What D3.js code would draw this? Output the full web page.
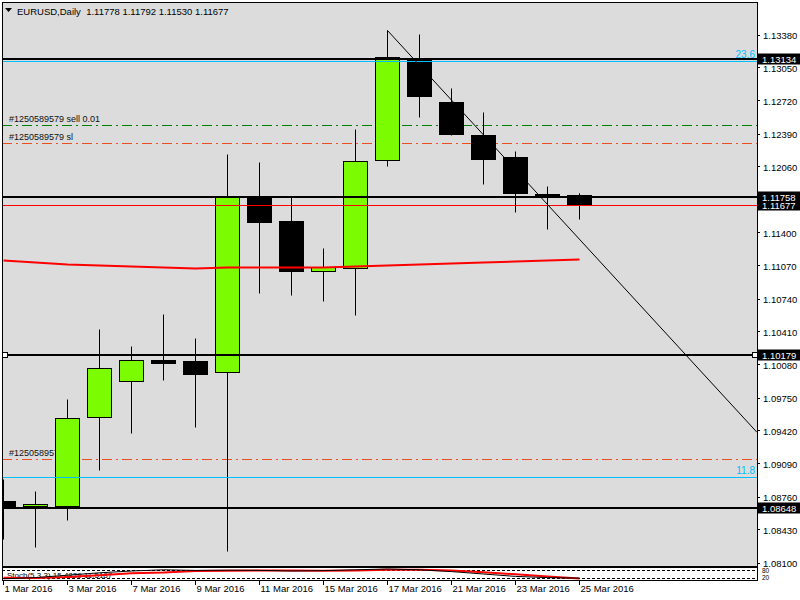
<!DOCTYPE html>
<html>
<head>
<meta charset="utf-8">
<script src="https://cdn.jsdelivr.net/npm/d3@7"></script>
<style>
body { margin:0; background:#fff; }
text { font-family: "Liberation Sans", Arial, sans-serif; }
</style>
</head>
<body>
<script>
// EURUSD daily candles
var w = 800;
var h = 600;

var dates = ["1 Mar 2016","2 Mar 2016","3 Mar 2016","4 Mar 2016","7 Mar 2016","8 Mar 2016","9 Mar 2016",
             "10 Mar 2016","11 Mar 2016","14 Mar 2016","15 Mar 2016","16 Mar 2016","17 Mar 2016","18 Mar 2016",
             "21 Mar 2016","22 Mar 2016","23 Mar 2016","24 Mar 2016","25 Mar 2016"];
var opens  = [1.0872,1.0866,1.0867,1.0955,1.0991,1.1012,1.1011,1.1000,1.1175,1.1151,1.1101,1.1104,1.1212,1.1313,1.1270,1.1238,1.1215,1.1179,1.11778];
var highs  = [1.0893,1.0881,1.0973,1.1043,1.1026,1.1058,1.1034,1.1218,1.1210,1.1175,1.1124,1.1243,1.1342,1.1338,1.1284,1.1260,1.1221,1.1186,1.11792];
var lows   = [1.0833,1.0825,1.0852,1.0902,1.0939,1.0992,1.0945,1.0821,1.1079,1.1077,1.1071,1.1057,1.1206,1.1255,1.1237,1.1188,1.1160,1.1143,1.11530];
var closes = [1.0865,1.0868,1.0955,1.1004,1.1012,1.1009,1.0998,1.1175,1.1150,1.1101,1.1105,1.1211,1.1315,1.1276,1.1238,1.1214,1.1179,1.1176,1.11677];
var maValues = [1.1112,1.1110,1.1108,1.1107,1.1106,1.1105,1.1104,1.1105,1.1105,1.1105,1.1105,1.1106,1.1107,1.1108,1.1109,1.1110,1.1111,1.1112,1.1113];

// stochastic subwindow
var stochMain   = [10,20,40,60,75,85,80,82,80,75,78,85,92,85,70,50,30,20,15.48];
var stochSignal = [19,17,25,40,56,62,75,78,80,80,78,80,85,86,80,65,48,30,11.52];

var priceTicks = ["1.13380","1.13050","1.12720","1.12390","1.12060","1.11400","1.11070","1.10740",
                  "1.10410","1.10080","1.09750","1.09420","1.09090","1.08760","1.08430","1.08100"];
var dateLabels = ["1 Mar 2016","3 Mar 2016","7 Mar 2016","9 Mar 2016","11 Mar 2016","15 Mar 2016",
                  "17 Mar 2016","21 Mar 2016","23 Mar 2016","25 Mar 2016"];

// horizontal lines, order lines, fibo levels
var hLines = [1.13134, 1.11758, 1.10179, 1.08648];
var bidPrice = 1.11677;
var orderPrices = [1.12472, 1.12292, 1.09132];
var orderTexts  = ["#1250589579 sell 0.01", "#1250589579 sl", "#1250589579"];
var orderColors = ["#008000", "#e8501e", "#e8501e"];
var fiboPrices = [1.1311, 1.0896];
var fiboTexts  = ["23.6", "11.8"];
// trend line anchors (date index, price)
var trendIdx = [12, 17];
var trendPrice = [1.1342, 1.1168];

var pLeft = 2, pRight = 757, pTop = 2, pBottom = 566;

var x = d3.scaleLinear().domain([0, dates.length - 1]).range([3.5, 3.5 + 32 * (dates.length - 1)]);
var y = d3.scaleLinear().domain([1.0810, 1.1338]).range([562.5, 34.5]);
var ys = d3.scaleLinear().domain([0, 100]).range([580, 568]);

var svg = d3.select("body").append("svg")
            .attr("width", w)
            .attr("height", h);

svg.append("rect").attr("width", w).attr("height", h).attr("fill", "#ffffff");
svg.append("rect")
  .attr("x", pLeft).attr("y", pTop)
  .attr("width", pRight - pLeft).attr("height", pBottom - pTop)
  .attr("fill", "#dcdcdc");

svg.append("clipPath").attr("id", "plot")
  .append("rect").attr("x", pLeft + 1).attr("y", pTop + 1)
  .attr("width", pRight - pLeft - 1).attr("height", pBottom - pTop - 1);

var plot = svg.append("g").attr("clip-path", "url(#plot)");

// order lines (under candles)
plot.selectAll("line.order")
  .data(orderPrices)
  .enter().append("line")
  .attr("x1", pLeft).attr("x2", pRight)
  .attr("y1", function(d) { return Math.round(y(d)) + 0.5; })
  .attr("y2", function(d) { return Math.round(y(d)) + 0.5; })
  .attr("stroke", function(d, i) { return orderColors[i]; })
  .attr("stroke-dasharray", "10,4,2,4");

plot.selectAll("text.order")
  .data(orderTexts)
  .enter().append("text")
  .text(function(d) { return d; })
  .attr("x", 9)
  .attr("y", function(d, i) { return Math.round(y(orderPrices[i])) - 3; })
  .attr("font-size", 9)
  .attr("fill", "#111");

// candles
var idx = d3.range(dates.length);
var cx = function(i) { return Math.floor(x(i)) + 0.5; };

plot.selectAll("line.wick")
  .data(idx)
  .enter().append("line")
  .attr("x1", cx).attr("x2", cx)
  .attr("y1", function(i) { return y(highs[i]); })
  .attr("y2", function(i) { return y(lows[i]); })
  .attr("stroke", "#000");

plot.selectAll("rect.body")
  .data(idx)
  .enter().append("rect")
  .attr("x", function(i) { return cx(i) - 12; })
  .attr("width", 24)
  .attr("y", function(i) { return Math.round(y(Math.max(opens[i], closes[i]))) + 0.5; })
  .attr("height", function(i) { return Math.max(2, Math.round(Math.abs(y(opens[i]) - y(closes[i])))); })
  .attr("fill", function(i) { return closes[i] >= opens[i] ? "#7cfc00" : "#000"; })
  .attr("stroke", "#000");

// moving average
plot.append("path")
  .datum(idx)
  .attr("d", d3.line().x(function(i) { return x(i); }).y(function(i) { return y(maValues[i]); }))
  .attr("fill", "none")
  .attr("stroke", "#ff0000")
  .attr("stroke-width", 2);

// fibo levels
plot.selectAll("line.fibo")
  .data(fiboPrices)
  .enter().append("line")
  .attr("x1", pLeft).attr("x2", pRight)
  .attr("y1", function(d) { return Math.round(y(d)) + 0.5; })
  .attr("y2", function(d) { return Math.round(y(d)) + 0.5; })
  .attr("stroke", "#00bfff");

plot.selectAll("text.fibo")
  .data(fiboTexts)
  .enter().append("text")
  .text(function(d) { return d; })
  .attr("x", 755)
  .attr("y", function(d, i) { return Math.round(y(fiboPrices[i])) - 3; })
  .attr("text-anchor", "end")
  .attr("font-size", 10)
  .attr("fill", "#00bfff");

// horizontal lines
plot.selectAll("line.hl")
  .data(hLines)
  .enter().append("line")
  .attr("x1", pLeft).attr("x2", pRight)
  .attr("y1", function(d) { return Math.round(y(d)); })
  .attr("y2", function(d) { return Math.round(y(d)); })
  .attr("stroke", "#000")
  .attr("stroke-width", 2);

// bid line
plot.append("line")
  .attr("x1", pLeft).attr("x2", pRight)
  .attr("y1", Math.round(y(bidPrice)) + 0.5).attr("y2", Math.round(y(bidPrice)) + 0.5)
  .attr("stroke", "#ff0000");

// selected line markers
[4.5, 754.5].forEach(function(px) {
  plot.append("rect")
    .attr("x", px - 2).attr("y", Math.round(y(hLines[2])) - 2.5)
    .attr("width", 5).attr("height", 5)
    .attr("fill", "#fff").attr("stroke", "#000");
});

// trend line (ray)
var slope = (y(trendPrice[1]) - y(trendPrice[0])) / (x(trendIdx[1]) - x(trendIdx[0]));
plot.append("line")
  .attr("x1", x(trendIdx[0])).attr("y1", y(trendPrice[0]))
  .attr("x2", pRight).attr("y2", y(trendPrice[0]) + slope * (pRight - x(trendIdx[0])))
  .attr("stroke", "#000");

// frame
svg.append("rect")
  .attr("x", pLeft + 0.5).attr("y", pTop + 0.5)
  .attr("width", pRight - pLeft).attr("height", pBottom - pTop)
  .attr("fill", "none").attr("stroke", "#000");

// header
svg.append("path").attr("d", "M5,8 L12,8 L8.5,12 Z").attr("fill", "#000");
svg.append("text")
  .text("EURUSD,Daily  1.11778 1.11792 1.11530 1.11677")
  .attr("x", 17).attr("y", 15)
  .attr("font-size", 9.5)
  .style("white-space", "pre")
  .attr("fill", "#000");

// price axis
svg.selectAll("line.ptick")
  .data(priceTicks)
  .enter().append("line")
  .attr("x1", pRight).attr("x2", pRight + 3)
  .attr("y1", function(d) { return Math.round(y(+d)) + 0.5; })
  .attr("y2", function(d) { return Math.round(y(+d)) + 0.5; })
  .attr("stroke", "#000");

svg.selectAll("text.ptick")
  .data(priceTicks)
  .enter().append("text")
  .text(function(d) { return d; })
  .attr("x", 763)
  .attr("y", function(d) { return y(+d) + 4; })
  .attr("font-size", 9.5)
  .attr("fill", "#000");

// price boxes
var boxes = hLines.concat([bidPrice]);
svg.selectAll("rect.pbox")
  .data(boxes)
  .enter().append("rect")
  .attr("x", pRight).attr("width", w - pRight)
  .attr("y", function(d) { return Math.round(y(d)) - 5.5; })
  .attr("height", 11)
  .attr("fill", "#000");

svg.selectAll("text.pbox")
  .data(boxes)
  .enter().append("text")
  .text(function(d) { return d.toFixed(5); })
  .attr("x", 762)
  .attr("y", function(d) { return Math.round(y(d)) + 4; })
  .attr("font-size", 9.5)
  .attr("fill", "#fff");

// stochastic subwindow
svg.append("rect")
  .attr("x", pLeft + 0.5).attr("y", 567.5)
  .attr("width", pRight - pLeft).attr("height", 13)
  .attr("fill", "#fff").attr("stroke", "#000");

[80, 20].forEach(function(lv) {
  svg.append("line")
    .attr("x1", pLeft).attr("x2", pRight)
    .attr("y1", Math.round(ys(lv)) + 0.5).attr("y2", Math.round(ys(lv)) + 0.5)
    .attr("stroke", "#000")
    .attr("stroke-dasharray", "3,2");
});

svg.append("text")
  .text("Stoch(5,3,3) 15.4829 11.5187")
  .attr("x", 7).attr("y", 578)
  .attr("font-size", 8)
  .attr("fill", "#000");

svg.append("path")
  .datum(idx)
  .attr("d", d3.line().x(function(i) { return x(i); }).y(function(i) { return ys(stochSignal[i]); }))
  .attr("fill", "none").attr("stroke", "#ff0000").attr("stroke-width", 2);

svg.append("path")
  .datum(idx)
  .attr("d", d3.line().x(function(i) { return x(i); }).y(function(i) { return ys(stochMain[i]); }))
  .attr("fill", "none").attr("stroke", "#000");

["80", "20"].forEach(function(t, i) {
  svg.append("text")
    .text(t)
    .attr("x", 762).attr("y", [573, 580][i])
    .attr("font-size", 6.5)
    .attr("fill", "#000");
});

// date axis
svg.selectAll("line.dtick")
  .data(dateLabels)
  .enter().append("line")
  .attr("x1", function(d) { return cx(dates.indexOf(d)); })
  .attr("x2", function(d) { return cx(dates.indexOf(d)); })
  .attr("y1", 581).attr("y2", 585)
  .attr("stroke", "#000");

svg.selectAll("text.dtick")
  .data(dateLabels)
  .enter().append("text")
  .text(function(d) { return d; })
  .attr("x", function(d) { return Math.max(3, cx(dates.indexOf(d)) + 1); })
  .attr("y", 592)
  .attr("font-size", 9.5)
  .attr("fill", "#000");
</script>
</body>
</html>
